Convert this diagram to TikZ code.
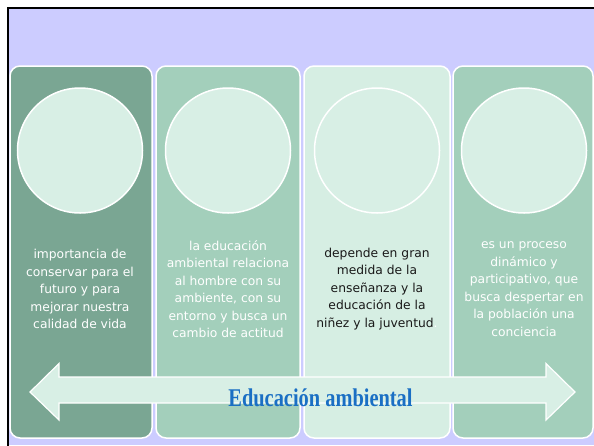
\documentclass[tikz,border=0pt]{standalone}
\usepackage{fontspec}
\setmainfont{DejaVu Sans}
\newfontfamily\titlefont[FakeStretch=0.8]{Liberation Serif}
\definecolor{slidebg}{HTML}{CCCCFF}
\definecolor{darksage}{HTML}{7AA693}
\definecolor{midsage}{HTML}{A3CFBB}
\definecolor{palesage}{HTML}{D6EEE3}
\definecolor{circfill}{HTML}{D8EFE5}
\definecolor{titleblue}{HTML}{1A6FC4}
\tikzset{
  colbox/.style={draw=white,line width=1.5pt,rounded corners=10pt},
  disc/.style={circle,draw=white,line width=1.5pt,fill=circfill,minimum size=125pt,inner sep=0pt},
  coltext/.style={align=center,font=\fontsize{12.3pt}{17.5pt}\selectfont,inner sep=0pt},
}
\begin{document}
\begin{tikzpicture}[x=1pt,y=-1pt]
\useasboundingbox (0,0) rectangle (594,445);
\fill[slidebg] (8,8) rectangle (594,445);
\draw[black,line width=2.5pt] (8,446) -- (8,8) -- (595,8);
% columns
\draw[colbox,fill=darksage] (10,66) rectangle (152,438);
\draw[colbox,fill=midsage] (156,66) rectangle (300,438);
\draw[colbox,fill=palesage] (304,66) rectangle (450,438);
\draw[colbox,fill=midsage] (453,66) rectangle (593,438);
% circles
\node[disc] (c1) at (80,150.5) {};
\node[disc] (c2) at (228,150.5) {};
\node[disc] (c3) at (377,150.5) {};
\node[disc] (c4) at (524,150.5) {};
% texts
\node[coltext,text=white] (t1) at (80,289) {importancia de\\conservar para el\\futuro y para\\mejorar nuestra\\calidad de vida};
\node[coltext,text=white] (t2) at (228,289) {la educación\\ambiental relaciona\\al hombre con su\\ambiente, con su\\entorno y busca un\\cambio de actitud};
\node[coltext,text=black!90] (t3) at (377,289) {depende en gran\\medida de la\\enseñanza y la\\educación de la\\niñez y la juventud{\color{white}.}};
\node[coltext,text=white] (t4) at (524,289) {es un proceso\\dinámico y\\participativo, que\\busca despertar en\\la población una\\conciencia};
% double arrow
\draw[draw=white,line width=1.2pt,fill=circfill,line join=miter]
  (30,392) -- (59,363.5) -- (59,377) -- (546,377) -- (546,363.5) -- (575,392)
  -- (546,420) -- (546,403) -- (59,403) -- (59,420) -- cycle;
\node[anchor=base,inner sep=0pt,text=titleblue,font=\titlefont\bfseries\fontsize{25.5pt}{30pt}\selectfont] (title) at (320.5,406) {Educación ambiental};
\end{tikzpicture}
\end{document}
